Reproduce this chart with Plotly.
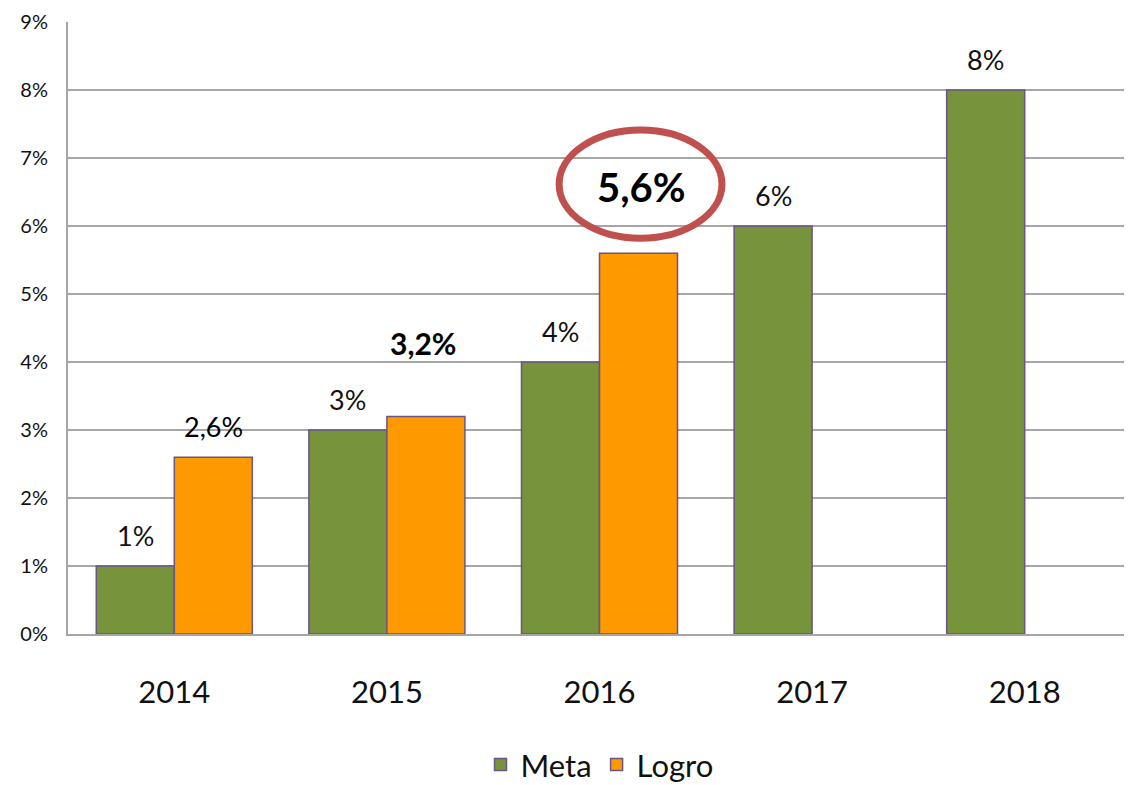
import plotly.graph_objects as go

years = ["2014", "2015", "2016", "2017", "2018"]
meta = [1, 3, 4, 6, 8]
logro = [2.6, 3.2, 5.6, None, None]
tick_vals = [0, 1, 2, 3, 4, 5, 6, 7, 8, 9]
tick_text = ["0%", "1%", "2%", "3%", "4%", "5%", "6%", "7%", "8%", "9%"]

GREEN = "#77933C"
ORANGE = "#FF9900"
EDGE = "#6A5586"
FONT = "Lato, 'Open Sans', sans-serif"

fig = go.Figure()
fig.add_trace(go.Bar(name="Meta", x=years, y=meta, marker=dict(color=GREEN, line=dict(color=EDGE, width=1.5))))
fig.add_trace(go.Bar(name="Logro", x=years, y=logro, marker=dict(color=ORANGE, line=dict(color=EDGE, width=1.5))))


def fmt(v):
    s = ("%g" % v).replace(".", ",")
    return s + "%"


annotations = []
for i, v in enumerate(meta):
    annotations.append(dict(x=i, y=v, xref="x", yref="y", text=fmt(v), showarrow=False,
                            xshift=-39, yshift=31, font=dict(size=27, color="#111", family=FONT)))
styles = {0: dict(size=27, bold=False, yshift=31, xshift=39),
          1: dict(size=30, bold=True, yshift=73, xshift=36),
          2: dict(size=40, bold=True, yshift=66, xshift=42)}
for i, v in enumerate(logro):
    if v is None:
        continue
    st = styles[i]
    t = fmt(v)
    if st["bold"]:
        t = "<b>" + t + "</b>"
    annotations.append(dict(x=i, y=v, xref="x", yref="y", text=t, showarrow=False,
                            xshift=st["xshift"], yshift=st["yshift"],
                            font=dict(size=st["size"], color="#000", family=FONT)))

fig.update_layout(
    width=1124, height=777,
    margin=dict(l=60, r=1, t=14, b=151, autoexpand=False),
    paper_bgcolor="white", plot_bgcolor="white",
    barmode="group", bargap=0.266, bargroupgap=0,
    font=dict(family=FONT, color="#111"),
    showlegend=True,
    legend=dict(orientation="h", x=0.5, xanchor="center", yref="container", y=0.026, yanchor="middle",
                font=dict(size=31, family=FONT), itemwidth=30),
    annotations=annotations,
    shapes=[dict(type="circle", xref="x", yref="y", x0=1.81, x1=2.576, y0=5.82, y1=7.41,
                 line=dict(color="#C0504D", width=7), fillcolor="rgba(0,0,0,0)")],
)
fig.update_xaxes(type="category", range=[-0.5, 4.5], automargin=False, showgrid=False, showline=True,
                 linecolor="#A6A6A6", linewidth=2,
                 tickfont=dict(size=31, family=FONT, color="#111"), ticks="", ticklabelstandoff=30)
fig.update_yaxes(range=[0, 9], tickvals=tick_vals, ticktext=tick_text, automargin=False, showgrid=True,
                 gridcolor="#A6A6A6", gridwidth=1.5, showline=True, linecolor="#A6A6A6", linewidth=2,
                 tickfont=dict(size=20, family=FONT, color="#111"), zeroline=False, ticklabelstandoff=14)

fig.write_html("out.html")
